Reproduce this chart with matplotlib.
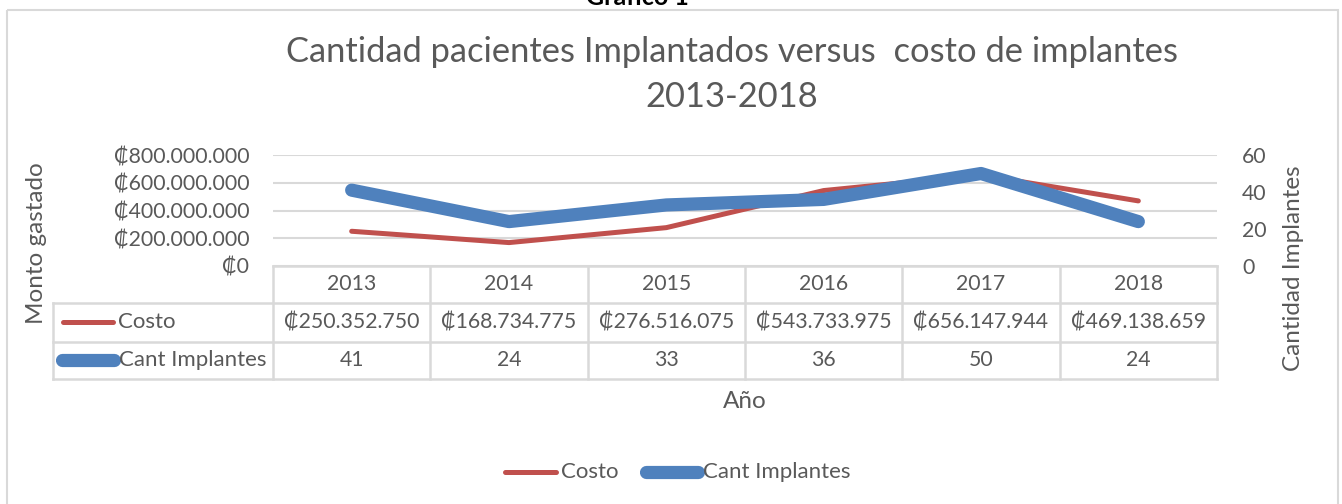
import matplotlib
matplotlib.use("Agg")
import matplotlib.pyplot as plt
from matplotlib.patches import Rectangle

plt.rcParams['font.family'] = ['Lato', 'DejaVu Sans']

years = ["2013", "2014", "2015", "2016", "2017", "2018"]
costo = [250352750, 168734775, 276516075, 543733975, 656147944, 469138659]
implantes = [41, 24, 33, 36, 50, 24]
left_ticks = [0, 200000000, 400000000, 600000000, 800000000]
right_ticks = [0, 20, 40, 60]

RED = "#C0504D"
BLUE = "#4F81BD"
GREY = "#595959"
GRID = "#D9D9D9"

W, H = 1342, 504
fig = plt.figure(figsize=(W / 100, H / 100), dpi=100)

def fx(px):
    return px / W

def fy(py):
    return 1 - py / H

def money(v):
    s = f"{v:,}".replace(",", ".")
    return "\u20a1" + s

FS = 15.3
TICKFS = 15.3
LABFS = 17.5

# overlay axes in pixel coordinates for frame/table
ov = fig.add_axes([0, 0, 1, 1], zorder=0)
ov.set_xlim(0, W)
ov.set_ylim(H, 0)
ov.axis("off")
ov.add_patch(Rectangle((7, 10), 1331, 520, fill=False, edgecolor=GRID, lw=1.5))

# main axes
x0, x1, ytop, ybot = 273, 1217, 155, 266
ax = fig.add_axes([fx(x0), fy(ybot), fx(x1) - fx(x0), fy(ytop) - fy(ybot)], zorder=2)
ax.patch.set_alpha(0)
xs = list(range(len(years)))
ax.set_xlim(-0.5, len(years) - 0.5)
ax.set_ylim(0, 800000000)
ax.set_yticks(left_ticks)
ax.set_yticklabels([money(v) if v else "\u20a10" for v in left_ticks])
ax.tick_params(axis="y", length=0, labelsize=TICKFS, labelcolor=GREY, pad=17)
ax.set_xticks([])
for s in ax.spines.values():
    s.set_visible(False)
ax.grid(axis="y", color=GRID, lw=1.5)
ax.set_axisbelow(True)
ax.plot(xs, costo, color=RED, lw=3.6, solid_capstyle="round", solid_joinstyle="round", zorder=3)

ax2 = ax.twinx()
ax2.set_ylim(0, 60)
ax2.set_yticks(right_ticks)
ax2.tick_params(axis="y", length=0, labelsize=TICKFS, labelcolor=GREY, pad=18)
for s in ax2.spines.values():
    s.set_visible(False)
ax2.plot(xs, implantes, color=BLUE, lw=9.5, solid_capstyle="round", solid_joinstyle="round", zorder=4)

# titles
fig.text(fx(637), fy(5), "Gráfico 1", ha="center", va="baseline", fontsize=18,
         fontweight="bold", color="black")
fig.text(fx(732), fy(52), "Cantidad pacientes Implantados versus  costo de implantes",
         ha="center", va="center", fontsize=24.8, color=GREY)
fig.text(fx(732), fy(97), "2013-2018", ha="center", va="center", fontsize=24.8, color=GREY)

fig.text(fx(37), fy(243), "Monto gastado", rotation=90, ha="center", va="center",
         fontsize=LABFS, color=GREY)
fig.text(fx(1293), fy(268), "Cantidad Implantes", rotation=90, ha="center", va="center",
         fontsize=LABFS, color=GREY)
fig.text(fx(745), fy(401), "Año", ha="center", va="center", fontsize=LABFS, color=GREY)

# table
cols = [273 + i * (1217 - 273) / len(years) for i in range(len(years) + 1)]
rows = [266, 303, 342, 379]
tlw = 1.8
ov.plot([273, 1217], [266, 266], color=GRID, lw=tlw)
for yy in rows[1:]:
    ov.plot([53, 1217], [yy, yy], color=GRID, lw=tlw)
for c in cols:
    ov.plot([c, c], [266, 379], color=GRID, lw=tlw)
ov.plot([53, 53], [303, 379], color=GRID, lw=tlw)

for i, y in enumerate(years):
    cx = (cols[i] + cols[i + 1]) / 2
    ov.text(cx, (rows[0] + rows[1]) / 2, y, ha="center", va="center", fontsize=FS, color=GREY)
    ov.text(cx, (rows[1] + rows[2]) / 2, money(costo[i]), ha="center", va="center",
            fontsize=FS, color=GREY)
    ov.text(cx, (rows[2] + rows[3]) / 2, str(implantes[i]), ha="center", va="center",
            fontsize=FS, color=GREY)

ov.plot([63, 113], [322, 322], color=RED, lw=3.6, solid_capstyle="round")
ov.text(118, 322, "Costo", ha="left", va="center", fontsize=16, color=GREY)
ov.plot([62, 114], [360, 360], color=BLUE, lw=9.5, solid_capstyle="round")
ov.text(119, 360, "Cant Implantes", ha="left", va="center", fontsize=16, color=GREY)

# legend
ov.plot([505, 556], [472, 472], color=RED, lw=3.6, solid_capstyle="round")
ov.text(561, 472, "Costo", ha="left", va="center", fontsize=16, color=GREY)
ov.plot([646, 698], [472, 472], color=BLUE, lw=9.5, solid_capstyle="round")
ov.text(703, 472, "Cant Implantes", ha="left", va="center", fontsize=16, color=GREY)

fig.savefig("out.png", dpi=100)
